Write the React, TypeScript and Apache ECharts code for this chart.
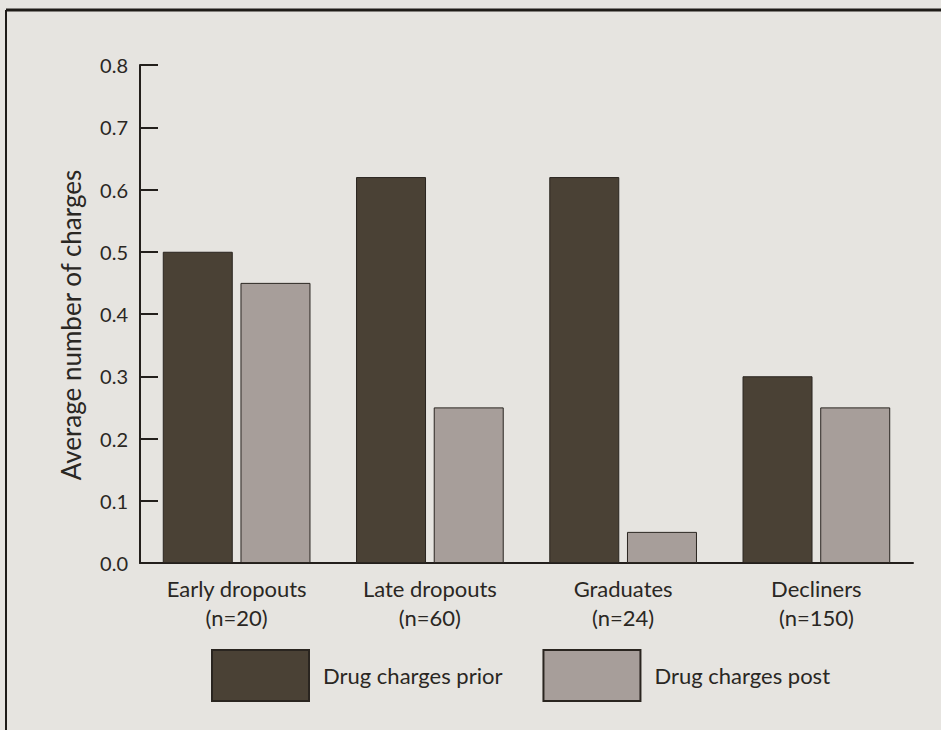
import React, { useEffect, useRef } from "react";
import * as echarts from "echarts";

const categories = ["Early dropouts\n(n=20)", "Late dropouts\n(n=60)", "Graduates\n(n=24)", "Decliners\n(n=150)"];
const priorValues = [0.5, 0.62, 0.62, 0.3];
const postValues = [0.45, 0.25, 0.05, 0.25];
const seriesNames = ["Drug charges prior", "Drug charges post"];
const yTicks = { min: 0, max: 0.8, interval: 0.1 };

const FONT = "Lato, 'Open Sans', sans-serif";
const TEXT = "#2a2723";

export default function App() {
  const ref = useRef<HTMLDivElement>(null);
  useEffect(() => {
    const chart = echarts.init(ref.current!, undefined, { renderer: "svg" });
    chart.setOption({
      animation: false,
      backgroundColor: "#e6e4e0",
      textStyle: { fontFamily: FONT, color: TEXT },
      grid: { left: 140, right: 28, top: 65, bottom: 167 },
      legend: {
        left: 211,
        top: 649,
        padding: 0,
        itemWidth: 97,
        itemHeight: 51,
        itemGap: 40,
        icon: "rect",
        data: seriesNames,
        textStyle: { fontFamily: FONT, fontSize: 22, color: TEXT, padding: [0, 0, 0, 9] },
      },
      xAxis: {
        type: "category",
        data: categories,
        axisLine: { lineStyle: { color: "#231f1c", width: 2 } },
        axisTick: { inside: true, length: 11, lineStyle: { color: "#231f1c", width: 2 } },
        axisLabel: { fontFamily: FONT, fontSize: 22, color: TEXT, lineHeight: 29, margin: 11 },
      },
      yAxis: {
        type: "value",
        min: yTicks.min,
        max: yTicks.max,
        interval: yTicks.interval,
        name: "Average number of charges",
        nameLocation: "middle",
        nameGap: 56,
        nameRotate: 90,
        nameTextStyle: { fontFamily: FONT, fontSize: 26, color: TEXT, padding: [0, 22, 0, 0] },
        splitLine: { show: false },
        axisLine: { show: true, lineStyle: { color: "#231f1c", width: 2 } },
        axisTick: { show: true, inside: true, length: 18, lineStyle: { color: "#231f1c", width: 2 } },
        axisLabel: {
          fontFamily: FONT,
          fontSize: 20,
          color: TEXT,
          margin: 12,
          formatter: (v: number) => v.toFixed(1),
        },
      },
      series: [
        {
          name: seriesNames[0],
          type: "bar",
          data: priorValues,
          barWidth: 70,
          barGap: "11%",
          itemStyle: { color: "#4a4135", borderColor: "#2a2520", borderWidth: 1 },
        },
        {
          name: seriesNames[1],
          type: "bar",
          data: postValues,
          barWidth: 70,
          barGap: "11%",
          itemStyle: { color: "#a79e9a", borderColor: "#2a2520", borderWidth: 1 },
        },
      ],
      graphic: [
        { type: "line", shape: { x1: 6, y1: 10, x2: 941, y2: 10 }, style: { stroke: "#1e1b18", lineWidth: 3 } },
        { type: "line", shape: { x1: 6, y1: 10, x2: 6, y2: 730 }, style: { stroke: "#1e1b18", lineWidth: 2 } },
      ],
    });
    return () => chart.dispose();
  }, []);
  return <div ref={ref} style={{ position: "fixed", left: 0, top: 0, width: 941, height: 730 }} />;
}
